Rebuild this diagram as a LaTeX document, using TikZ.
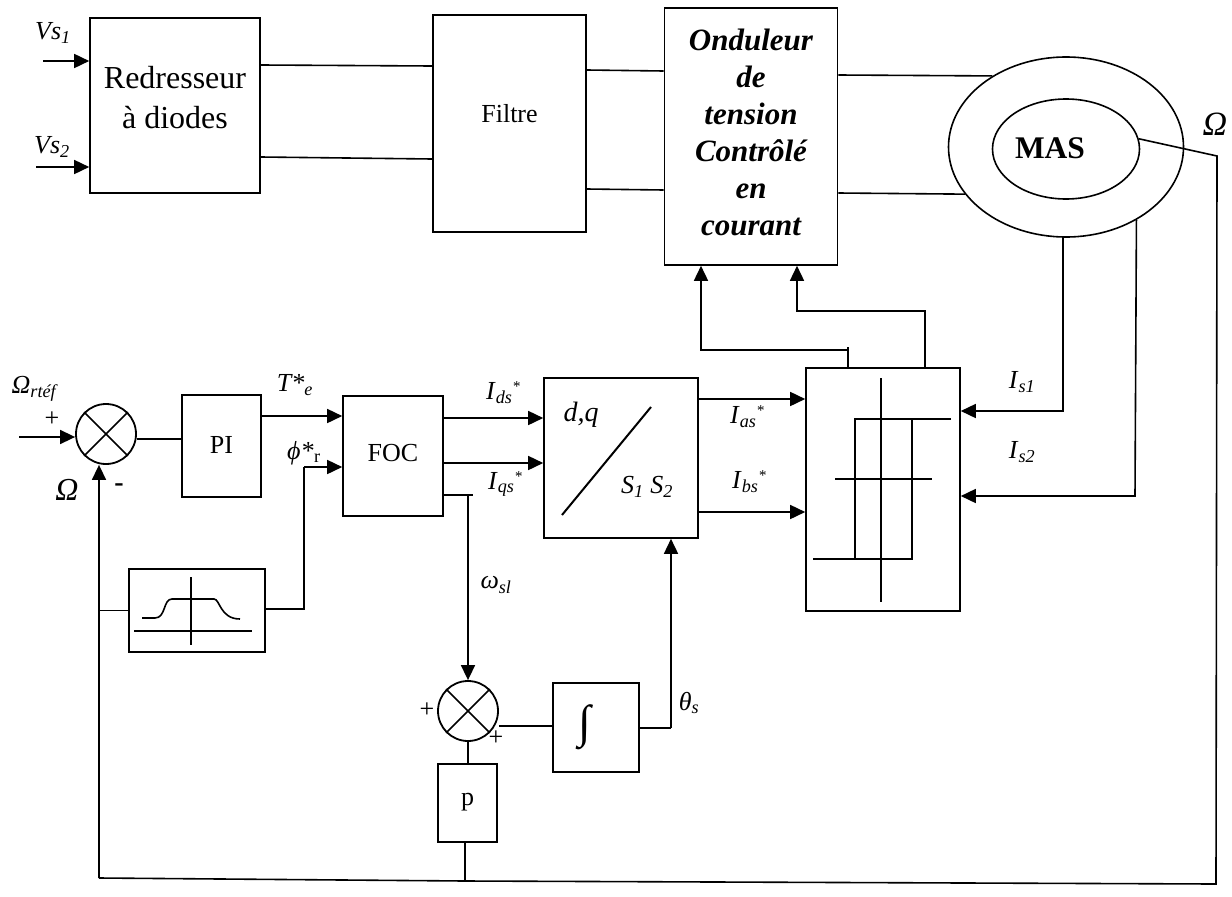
\documentclass[tikz,border=0pt]{standalone}
\usepackage{fontspec}
\setmainfont{Liberation Serif}
\usetikzlibrary{arrows.meta,calc,shapes.geometric}
\newcommand{\lab}[2]{\textit{#1}\textsubscript{\textit{#2}}}
\newcommand{\ldot}{\raisebox{8pt}{\fontsize{15}{15}\selectfont\textit{*}}}
\tikzset{
  block/.style={draw,line width=1.6pt,inner sep=0pt,align=center,font=\fontsize{26}{38}\selectfont},
  sumnode/.style={draw,circle,line width=1.8pt,minimum size=60pt,inner sep=0pt},
  sig/.style={line width=1.6pt},
  arw/.style={line width=1.6pt,-{Triangle[length=15pt,width=14pt]}},
  txt/.style={inner sep=0pt,font=\fontsize{26}{28}\selectfont}
}
\begin{document}
\begin{tikzpicture}[x=1pt,y=-1pt]
  \useasboundingbox (0,0) rectangle (1232,897);
  % 上排方框
  \node[block,minimum width=170pt,minimum height=175pt,font=\fontsize{32}{38}\selectfont] (red) at (175,105.5)
    {\raisebox{16pt}{Redresseur}\\\raisebox{16pt}{à diodes}};
  \node[block,minimum width=153pt,minimum height=217pt] (filt) at (509.5,123.5) {\raisebox{21pt}{Filtre}};
  \node[block,minimum width=173pt,minimum height=257pt,font=\fontsize{31}{37}\selectfont\bfseries\itshape] (ond) at (751,136.5)
    {\raisebox{9pt}{Onduleur}\\\raisebox{9pt}{de}\\\raisebox{9pt}{tension}\\\raisebox{9pt}{Contrôlé}\\\raisebox{9pt}{en}\\\raisebox{9pt}{courant}};
  % 电机：两个椭圆
  \node[draw,ellipse,line width=1.6pt,minimum width=235pt,minimum height=180pt,inner sep=0pt] (motor) at (1066,147) {};
  \node[draw,ellipse,line width=1.6pt,minimum width=147pt,minimum height=100pt,inner sep=0pt] (mas) at (1066,149) {};
  \node[txt,font=\fontsize{31.5}{34}\selectfont\bfseries] (mastxt) at (1050,148) {MAS};
  % 下排方框
  \node[sumnode] (sum1) at (106,434) {};
  \node[block,minimum width=79pt,minimum height=102pt] (pi) at (221.5,446) {\raisebox{3pt}{PI}};
  \node[block,minimum width=100pt,minimum height=120pt] (foc) at (393,456) {\raisebox{7pt}{FOC}};
  \node[block,minimum width=136pt,minimum height=83pt] (lim) at (197,610.5) {};
  \node[block,minimum width=154pt,minimum height=160pt] (dq) at (621,458) {};
  \node[block,minimum width=154pt,minimum height=243pt] (hyst) at (883,489.5) {};
  \node[sumnode] (sum2) at (468,711) {};
  \node[block,minimum width=86pt,minimum height=89pt,font=\fontsize{46}{46}\selectfont] (integ) at (596,727.5) {\raisebox{3pt}{∫}\kern22pt};
  \node[block,minimum width=59pt,minimum height=78pt] (gain) at (467.5,803) {\raisebox{8pt}{p}};
  % 求和圆内的叉
  \foreach \s in {sum1,sum2} {
    \draw[sig] (\s.45) -- (\s.225);
    \draw[sig] (\s.135) -- (\s.-45);
  }
  % 自由端
  \coordinate (vs1) at (43,61);
  \coordinate (vs2) at (36,167);
  \coordinate (omref) at (19,437);
  \coordinate (omtop) at (1217,156);
  \coordinate (fbr) at (1216,884);
  \coordinate (fbl) at (99,878);
  \coordinate (fbp) at (465,881);
  % 电源链
  \draw[arw] (vs1) -- (red.west |- vs1);
  \draw[arw] (vs2) -- (red.west |- vs2);
  \draw[sig] (red.east |- 0,65) -- (filt.west |- 0,66);
  \draw[sig] (red.east |- 0,157) -- (filt.west |- 0,159);
  \draw[sig] (filt.east |- 0,70) -- (ond.west |- 0,71);
  \draw[sig] (filt.east |- 0,189) -- (ond.west |- 0,190);
  \draw[sig] (ond.east |- 0,75) -- (motor.136.5);
  \draw[sig] (ond.east |- 0,193) -- (motor.205);
  % 速度环
  \draw[arw] (omref) -- (sum1.west |- omref);
  \draw[sig] (sum1.east |- 0,439) -- (pi.west |- 0,439);
  \draw[arw] (pi.east |- 0,416) -- (foc.west |- 0,416);
  \draw[sig] (lim.east |- 0,609) -- (304,609) -- (304,467);
  \draw[arw] (304,467) -- (foc.west |- 0,467);
  \draw[sig] (fbl |- lim.west) -- (lim.west);
  \draw[arw] (fbl) -- (fbl |- sum1.south);
  \draw[sig] (fbl) -- (fbp) -- (fbr) -- (omtop) -- (mas.8.6);
  \draw[sig] (gain.south -| fbp) -- (fbp);
  % 电流给定
  \draw[arw] (foc.east |- 0,418) -- (dq.west |- 0,418);
  \draw[arw] (foc.east |- 0,463) -- (dq.west |- 0,463);
  \draw[sig] (foc.east |- 0,495) -- (473,495);
  \draw[arw] (468,495) -- (sum2.north);
  \draw[arw] (dq.east |- 0,399) -- (hyst.west |- 0,399);
  \draw[arw] (dq.east |- 0,512) -- (hyst.west |- 0,512);
  \draw[sig] (sum2.south) -- (gain.north -| sum2);
  \draw[sig] (integ.west |- 0,726) -- (sum2.east |- 0,726);
  \draw[sig] (integ.east |- 0,728) -- (671,728);
  \draw[arw] (671,728) -- (dq.south -| 671,0);
  % 滞环输出与电流反馈
  \draw[sig] (hyst.north -| 848,0) -- (848,347);
  \draw[arw] (848,350) -- (701,350) -- (ond.south -| 701,0);
  \draw[arw] (hyst.north -| 925,0) -- (925,311) -- (797,311) -- (ond.south -| 797,0);
  \draw[arw] (motor.south -| 1063,0) -- (1063,411) -- (hyst.east |- 0,411);
  \draw[arw] (motor.-46.6) -- (1135,496) -- (hyst.east |- 0,496);
  % 限幅曲线
  \draw[sig] (134,631) -- (252,631);
  \draw[sig] (191,577) -- (191,645);
  \draw[sig] (142,618) -- (155,618) .. controls (166,618) and (163,599) .. (172,599) -- (214,599)
    .. controls (220,599) and (220,619) .. (240,619);
  % dq 框内
  \draw[line width=2pt] (562,515) -- (651,407);
  \node[txt,font=\fontsize{28}{30}\selectfont\itshape] (dqtxt) at (581,415) {d,q};
  \node[txt] (s12txt) at (647,487) {\lab{S}{1} \lab{S}{2}};
  % 滞环符号
  \draw[sig] (881,378) -- (881,602);
  \draw[sig] (835,479) -- (932,479);
  \draw[sig] (813,559) -- (912,559) -- (912,419);
  \draw[sig] (951,419) -- (855,419) -- (855,559);
  % 标注
  \node[txt] (vs1txt) at (53,33) {\lab{Vs}{1}};
  \node[txt] (vs2txt) at (52,147) {\lab{Vs}{2}};
  \node[txt,font=\fontsize{34}{36}\selectfont] (omtxt) at (1215,124) {\textit{Ω}};
  \node[txt,font=\fontsize{26}{28}\selectfont] (reftxt) at (35,389) {\lab{Ω}{rtéf}};
  \node[txt] (p1) at (52,419) {+};
  \node[txt,font=\fontsize{32}{34}\selectfont] (omfb) at (67,490) {\textit{Ω}};
  \node[txt,font=\fontsize{28}{30}\selectfont\bfseries] (m1) at (119,488) {-};
  \node[txt] (tetxt) at (295,385) {\lab{T*}{e}};
  \node[txt] (phitxt) at (304,453) {\lab{ϕ*}{}\textsubscript{r}};
  \node[txt] (idtxt) at (503,393) {\lab{I}{ds}\ldot};
  \node[txt] (iqtxt) at (505,484) {\lab{I}{qs}\ldot};
  \node[txt] (wtxt) at (496,585) {\lab{ω}{sl}};
  \node[txt] (iatxt) at (747,417) {\lab{I}{as}\ldot};
  \node[txt] (ibtxt) at (749,482) {\lab{I}{bs}\ldot};
  \node[txt] (thtxt) at (689,703) {\lab{θ}{s}};
  \node[txt] (is1txt) at (1022,382) {\lab{I}{s1}};
  \node[txt] (is2txt) at (1022,452) {\lab{I}{s2}};
  \node[txt] (p2) at (427,710) {+};
  \node[txt] (p3) at (496,738) {+};
\end{tikzpicture}
\end{document}
